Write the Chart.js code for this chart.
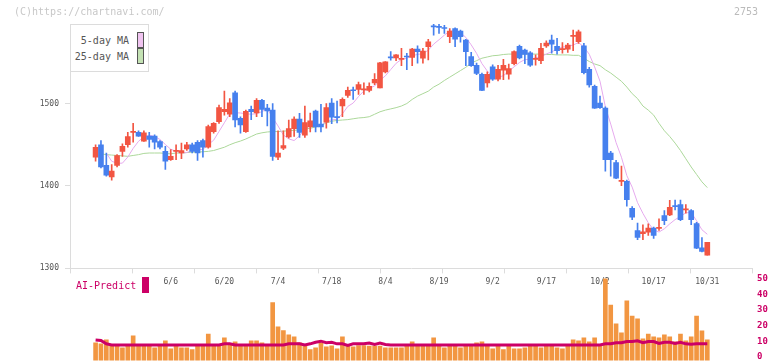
<!DOCTYPE html>
<html><head><meta charset="utf-8">
<script src="https://cdn.jsdelivr.net/npm/chart.js@4.4.1/dist/chart.umd.min.js"></script>
<style>
html,body{margin:0;padding:0;background:#fff;width:772px;height:361px;overflow:hidden;}
#wrap{position:relative;width:772px;height:361px;overflow:hidden;font-family:"DejaVu Sans Mono",monospace;}
canvas{position:absolute;left:0;}
.t{position:absolute;font-size:10px;line-height:12px;white-space:nowrap;}
#legend{position:absolute;left:70px;top:24px;width:77px;height:46px;border:1px solid #dcdcdc;background:#fff;z-index:3;}
.li{position:absolute;right:19px;font-size:10px;color:#555;}
.sw{position:absolute;left:66px;width:5px;height:14px;border:1px solid #555;}
</style></head>
<body><div id="wrap">
<canvas id="main" width="772" height="300" style="top:0"></canvas>
<canvas id="vol" width="772" height="107" style="top:264px"></canvas>
<div class="t" style="left:14px;top:6px;color:#c8c8c8">(C)https://chartnavi.com/</div>
<div class="t" style="left:734px;top:6px;color:#bbb">2753</div>
<div id="legend">
  <div class="li" style="top:10px">5-day MA</div><div class="sw" style="top:7px;background:#f0c4f0"></div>
  <div class="li" style="top:26px">25-day MA</div><div class="sw" style="top:23px;background:#c4e2b4"></div>
</div>
<div class="t" style="left:76px;top:280px;color:#cc0066;z-index:3">AI-Predict</div>
<div style="position:absolute;left:142px;top:277px;width:7px;height:16px;background:#cc0066;z-index:3"></div>
</div>
<script>
const dates = ['5/19','5/20','5/21','5/22','5/23','5/26','5/27','5/28','5/29','5/30',
'6/2','6/3','6/4','6/5','6/6','6/9','6/10','6/11','6/12','6/13','6/16','6/17','6/18','6/19','6/20','6/23','6/24','6/25','6/26','6/27','6/30',
'7/1','7/2','7/3','7/4','7/7','7/8','7/9','7/10','7/11','7/14','7/15','7/16','7/17','7/18','7/22','7/23','7/24','7/25','7/28','7/29','7/30','7/31',
'8/1','8/4','8/5','8/6','8/7','8/8','8/12','8/13','8/14','8/15','8/18','8/19','8/20','8/21','8/22','8/25','8/26','8/27','8/28','8/29',
'9/1','9/2','9/3','9/4','9/5','9/8','9/9','9/10','9/11','9/12','9/16','9/17','9/18','9/19','9/22','9/24','9/25','9/26','9/29','9/30',
'10/1','10/2','10/3','10/6','10/7','10/8','10/9','10/10','10/14','10/15','10/16','10/17','10/20','10/21','10/22','10/23','10/24','10/27','10/28','10/29','10/30','10/31'];
const tickDates = ['6/6','6/20','7/4','7/18','8/4','8/19','9/2','9/17','10/2','10/17','10/31'];
const priceTicks = [1300,1400,1500];
const volTicks = [0,10,20,30,40,50];

const opens = [1435,1450,1425,1411,1425,1442,1450,1465,1465,1454.5,
1460.5,1460.5,1454,1442,1432,1442,1440,1445,1450,1453,
1455,1447,1466,1478,1490,1487,1513,1482,1466,1493,
1488.5,1504,1494.5,1492,1435,1446,1459.5,1469.5,1481,1461.5,
1471.5,1491,1475,1477.5,1500.5,1483.5,1497,1510,1516.5,1517,
1516.5,1516,1525,1519,1538.5,1556,1555.5,1553.5,1557,1556,
1566,1555,1569,1593.5,1593,1592,1581,1591,1588,1577,
1557,1546.5,1535.5,1525,1544.5,1529.5,1540.5,1535.5,1548.5,1569.5,
1565,1561.5,1553.5,1552,1570,1577,1569.5,1565.5,1566,1581.5,
1575,1570,1541.5,1521,1500.5,1494.5,1440,1428.5,1405.5,1405.5,
1373,1346,1342,1344,1349,1348.5,1364,1365,1376,1377.5,
1371,1370,1354.5,1325,1316];
const highs = [1450,1455,1440,1426,1438,1451,1465,1476,1467,1467,
1465,1462,1455,1448,1444,1450,1452,1453,1452,1455,
1457,1474,1477,1498,1515,1506,1515,1484,1492,1497,
1506,1505,1499,1500,1467,1467,1480,1484,1488,1497,
1488.5,1492,1499,1500,1506,1503,1507,1520,1520,1526,
1525,1525,1536.5,1550,1551,1563,1559.5,1567,1561,1567,
1570,1567,1578,1596,1596,1595,1591,1592,1589,1578,
1562,1549,1537,1538.5,1547,1546.5,1553.5,1548,1564,1571,
1566,1563,1559,1573,1576,1583,1579,1574,1573,1589,
1589,1573,1544,1522.5,1509,1496,1442,1431,1424,1407,
1375,1355,1353,1354,1350,1360,1370,1382.5,1383,1383,
1377.5,1371.5,1356,1337.5,1331.5];
const lows = [1430,1422,1412,1407,1423,1436,1447,1453,1460,1454,
1447,1445,1445,1420,1431,1432,1433,1443,1440,1431,
1435,1446,1464,1476,1486,1484,1471.5,1464,1465,1480.5,
1484,1484,1473,1431,1432,1444,1458,1460,1459,1459,
1465.5,1465.5,1465.5,1470,1475.5,1476.5,1484,1507.5,1505,1511,
1511,1514,1523,1519,1537,1552.5,1552,1546,1541,1546,
1549,1549,1553,1583,1585,1585,1574,1569,1574.5,1546,
1545,1535,1515.5,1520,1528,1527.5,1529,1529.5,1547,1554,
1548.5,1545,1546.5,1548.5,1568,1561,1560,1561,1562,1564,
1573,1536,1520,1494,1494,1418,1412,1409,1400.5,1375.5,
1359,1335,1335,1340,1336.5,1346,1353,1364,1371,1358,
1367,1353,1324,1320,1316];
const closes = [1447,1423,1413,1418,1437,1448,1460,1465.5,1460.5,1464.5,
1456.5,1453,1447,1430,1436,1442.5,1443,1450,1442,1440,
1447,1472,1476,1495,1493,1501,1480,1474,1490.5,1490,
1504,1493,1491,1436,1440,1449,1469.5,1481,1465,1477,
1479,1471.5,1471.5,1495,1483.5,1483,1505,1516,1515.5,1523,
1517,1521,1529.5,1549.5,1550.5,1555.5,1559,1554,1556.5,1566,
1563,1563.5,1575,1593,1592.5,1591,1588,1578,1581,1563,
1546,1536.5,1516,1535.5,1529.5,1541.5,1546.5,1542.5,1563,1555.5,
1559.5,1546.5,1554,1567,1573.5,1572,1564,1566,1571,1582,
1587,1537.5,1522.5,1494.5,1495,1432,1432,1409.5,1406,1383.5,
1362,1337.5,1344.5,1349,1340,1349,1358,1374,1375,1359,
1371.5,1359,1324.5,1320.5,1331.5];
const ma5 = [null,null,1440,1430,1427.5,1427.7,1435.1,1445.6,1454.2,1459.8,
1461.5,1460.1,1456.4,1450.3,1444.6,1442.1,1440,1440.6,1443,1443.8,
1444.4,1450.3,1455.5,1466.1,1476.7,1487.4,1488.9,1488.5,1487.6,1487,
1487.6,1490.2,1493.7,1482.8,1472.8,1461.8,1457.1,1455.1,1460.9,1468.2,
1474.2,1474.6,1472.7,1478.7,1480.1,1480.9,1487.6,1496.5,1500.6,1508.5,
1515.3,1518.5,1521.3,1528.1,1533.6,1541.2,1548.8,1553.6,1554.9,1558,
1559.6,1560.5,1564.7,1572.1,1577.4,1583,1587.9,1588.5,1586.1,1580.2,
1571.2,1560.9,1548.5,1539.4,1532.7,1531.8,1533.8,1539.1,1544.6,1549.8,
1553.4,1553.4,1555.7,1556.5,1560.2,1562.7,1566.1,1568.5,1569.3,1571,
1574,1568.6,1559.8,1544.5,1527.1,1496.1,1475.1,1452.6,1434.9,1412.6,
1398.6,1379.8,1366.8,1355.4,1346.7,1344.1,1348.1,1354,1359.2,1363,
1367.5,1367.7,1357.8,1346.9,1341.4];
const ma25 = [null,1439,1438,1437.5,1437,1436.5,1436,1437,1438,1439.5,
1440,1440,1440,1439.5,1439,1440,1440,1440.5,1441,1441,
1441.5,1442,1443,1445,1447,1450,1452.5,1454.5,1457,1460,
1463,1464.5,1465.5,1466,1466,1466.5,1467,1467.5,1468,1469,
1470,1471.5,1473.5,1476.5,1478.5,1479.5,1480,1480.5,1481.5,1482.5,
1483,1484,1487,1490,1492,1493.5,1495,1497,1500,1505,
1509,1512,1515,1520,1523.5,1528,1532,1536,1540,1544,
1549,1552,1555,1556.5,1558,1558.5,1559.5,1560,1560,1560,
1560,1560,1560,1560,1559.5,1559.5,1559,1559,1559,1558.5,
1558.5,1555,1551,1548,1546,1541,1537,1532,1527,1520,
1512,1506,1497,1492,1486,1476,1467,1460,1452,1443,
1433,1423,1414,1405,1398];
const volume = [8.9,8.3,10.8,7.2,7.2,5.7,6.8,13.4,7.2,6.8,
7.2,5.7,6.8,10.2,5.1,7.2,5.7,5.7,4.7,6.8,
6.8,14.6,6.8,6.8,12.1,8.3,9.6,6.8,6.8,10.2,
10.2,8.9,6.8,34.6,19.1,16.8,14,12.7,8.9,6.8,
4.7,5.7,8.9,6.4,7,5.1,12.7,7.9,6.4,7.2,
7.2,6.8,6.8,6.8,5.7,5.7,5.7,5.7,6.8,9.6,
6.8,6.8,6.8,12.1,6.8,5.7,6.8,6.8,5.7,6.8,
6.8,8.9,9.6,6.8,5.1,6.8,4.7,6.8,5.1,5.1,
5.7,6.8,6.8,5.7,6.8,6.8,5.7,5.1,6.8,10.8,
10.2,12.1,9.6,12.1,6.8,50.3,33,21,15.3,35.7,
26,24.2,11.5,14.6,12.7,12.1,14,12.7,9.6,14.6,
10.2,12.7,26,16.6,10.8];
const aiPredict = [10.8,10.5,8.3,7.6,7.6,7.6,7.6,7.6,7.6,7.6,
7.6,7.6,7.6,7.6,7.6,7.6,7.6,7.6,7.6,7.6,
7.6,7.6,7.6,7.6,8.3,8.3,7.6,7.6,7.6,7.6,
7.6,7.6,7.6,7.6,7.6,7.6,8.3,8.3,8.3,7.6,
8.3,9.3,10,9,9.3,8.3,8.3,7.3,8.3,8.3,
8.3,8.8,7.9,8.8,7.9,7.6,7.6,7.6,7.6,7.6,
7.6,7.6,7.6,7.6,7.6,7.6,7.6,7.6,7.6,7.6,
7.6,7.6,7.6,7.6,7.6,7.6,7.6,7.6,7.6,7.6,
7.6,7.6,7.6,7.6,7.6,7.6,7.6,7.6,7.6,7.6,
7.6,7.6,7.6,7.6,7.6,8.3,8.3,9,9,9.8,
9.8,10.2,9,9.8,9.8,8.5,9.3,9.3,8.6,9.3,
8.3,8,8.3,8.3,8.3];

const UP = '#f25542', DOWN = '#4680ee';
const idx = dates.map((d, i) => i);
const cColors = idx.map(i => closes[i] >= opens[i] ? UP : DOWN);
const XMIN = -4.77, XMAX = 122.33;
const VOL_FLOOR = -2.4;
const mono = 'DejaVu Sans Mono';

new Chart(document.getElementById('main'), {
  type: 'bar',
  data: { datasets: [
    { type: 'bar', data: idx.map(i => ({x: i, y: [opens[i], closes[i]]})), backgroundColor: cColors,
      barThickness: 5, grouped: false, minBarLength: 1, order: 0, xAxisID: 'x', yAxisID: 'y' },
    { type: 'bar', data: idx.map(i => ({x: i, y: [lows[i], highs[i]]})), backgroundColor: cColors,
      barThickness: 1, grouped: false, order: 1, xAxisID: 'x', yAxisID: 'y' },
    { type: 'line', label: '5-day MA', data: idx.map(i => ({x: i, y: ma5[i]})), borderColor: '#e6aaee',
      borderWidth: 1, pointRadius: 0, order: 2, xAxisID: 'x', yAxisID: 'y' },
    { type: 'line', label: '25-day MA', data: idx.map(i => ({x: i, y: ma25[i]})), borderColor: '#acd89a',
      borderWidth: 1, pointRadius: 0, order: 3, xAxisID: 'x', yAxisID: 'y' }
  ]},
  options: {
    responsive: false, animation: false, devicePixelRatio: 1,
    layout: { padding: { left: 30, right: 20, top: 24, bottom: 9 } },
    plugins: { legend: { display: false }, tooltip: { enabled: false } },
    scales: {
      xm: { type: 'linear', position: 'bottom', min: 0, max: 11, offset: false,
        ticks: { display: false, stepSize: 1 },
        grid: { drawOnChartArea: false, tickLength: 5, color: '#dcdcdc', offset: false },
        border: { color: '#dcdcdc' } },
      x: { type: 'linear', position: 'bottom', min: XMIN, max: XMAX, offset: false,
        grid: { display: false, drawTicks: false, offset: false }, border: { display: false },
        afterBuildTicks: s => { s.ticks = tickDates.map(d => ({ value: dates.indexOf(d) })); },
        ticks: { autoSkip: false, maxRotation: 0, padding: 4, color: '#555',
          font: { family: mono, size: 8 }, callback: v => dates[v] } },
      y: { type: 'linear', position: 'left', min: 1300, max: 1596.5,
        afterBuildTicks: s => { s.ticks = priceTicks.map(v => ({ value: v })); },
        afterFit: s => { s.width = 40; },
        grid: { drawOnChartArea: false, tickLength: 5, color: '#dcdcdc' },
        border: { color: '#dcdcdc' },
        ticks: { padding: 6, color: '#555', font: { family: mono, size: 8 }, callback: v => String(v) } }
    }
  }
});

new Chart(document.getElementById('vol'), {
  type: 'bar',
  data: { datasets: [
    { type: 'line', data: idx.map(i => ({x: i, y: aiPredict[i]})), borderColor: '#cc0066', borderWidth: 3,
      pointRadius: 0, order: 0, xAxisID: 'x', yAxisID: 'y' },
    { type: 'bar', data: idx.map(i => ({x: i, y: volume[i]})), backgroundColor: '#f29641',
      barThickness: 4, base: VOL_FLOOR, order: 1, xAxisID: 'x', yAxisID: 'y' }
  ]},
  options: {
    responsive: false, animation: false, devicePixelRatio: 1,
    layout: { padding: { left: 70, right: 0, top: 14.5, bottom: 10.2 } },
    plugins: { legend: { display: false }, tooltip: { enabled: false } },
    scales: {
      x: { type: 'linear', min: XMIN, max: XMAX, display: false, offset: false },
      y: { type: 'linear', position: 'right', min: VOL_FLOOR, max: 50,
        afterBuildTicks: s => { s.ticks = volTicks.map(v => ({ value: v })); },
        afterFit: s => { s.width = 20; },
        grid: { display: false, drawTicks: false }, border: { display: false },
        ticks: { padding: 5, color: '#cc0066', font: { family: mono, size: 9, weight: 'bold' } } }
    }
  }
});
</script>
</body></html>
